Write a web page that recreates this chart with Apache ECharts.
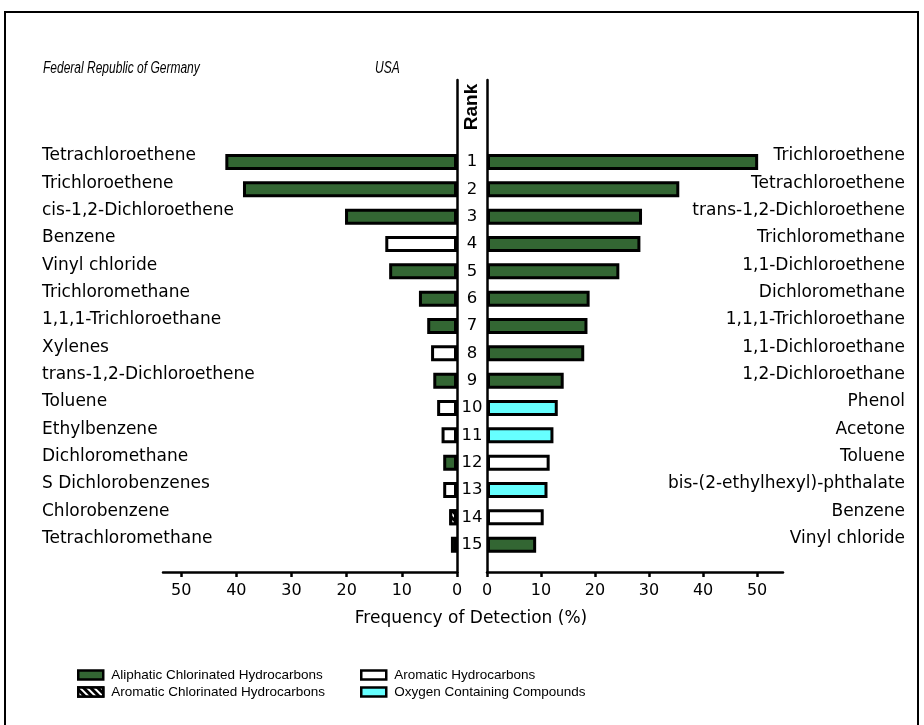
<!DOCTYPE html>
<html><head><meta charset="utf-8">
<script src="https://cdn.jsdelivr.net/npm/echarts@6/dist/echarts.min.js"></script>
<style>html,body{margin:0;padding:0;background:#fff}#c{width:924px;height:725px}</style>
</head><body><div id="c"></div>
<script>
// ---- data ----
const ranks = ['1','2','3','4','5','6','7','8','9','10','11','12','13','14','15'];
const gerNames = ['Tetrachloroethene','Trichloroethene','cis-1,2-Dichloroethene','Benzene','Vinyl chloride',
  'Trichloromethane','1,1,1-Trichloroethane','Xylenes','trans-1,2-Dichloroethene','Toluene',
  'Ethylbenzene','Dichloromethane','S Dichlorobenzenes','Chlorobenzene','Tetrachloromethane'];
const gerValues = [42.0, 38.8, 20.3, 13.0, 12.3, 6.9, 5.4, 4.7, 4.3, 3.6, 2.8, 2.5, 2.5, 1.4, 1.1];
const gerTypes = ['A','A','A','H','A','A','A','H','A','H','H','A','H','C','A'];
const usaNames = ['Trichloroethene','Tetrachloroethene','trans-1,2-Dichloroethene','Trichloromethane','1,1-Dichloroethene',
  'Dichloromethane','1,1,1-Trichloroethane','1,1-Dichloroethane','1,2-Dichloroethane','Phenol',
  'Acetone','Toluene','bis-(2-ethylhexyl)-phthalate','Benzene','Vinyl chloride'];
const usaValues = [50.2, 35.6, 28.7, 28.4, 24.5, 19.0, 18.6, 18.0, 14.2, 13.1, 12.3, 11.6, 11.2, 10.5, 9.1];
const usaTypes = ['A','A','A','A','A','A','A','A','A','O','O','H','O','H','A'];
const xTicks = [0, 10, 20, 30, 40, 50];
const typeNames = {
  A: 'Aliphatic Chlorinated Hydrocarbons',
  C: 'Aromatic Chlorinated Hydrocarbons',
  H: 'Aromatic Hydrocarbons',
  O: 'Oxygen Containing Compounds'
};

// ---- layout / style ----
const PAD_TOP = 3, PAD_BOTTOM = 1;
const pad = arr => [...Array(PAD_TOP).fill(''), ...arr, ...Array(PAD_BOTTOM).fill('')];
const padVals = (vals, types, t) => [...Array(PAD_TOP).fill('-'), ...vals.map((v, i) => types[i] === t ? v : '-'), ...Array(PAD_BOTTOM).fill('-')];
const typeStyle = {
  A: { color: '#336633' },
  H: { color: '#ffffff' },
  O: { color: '#66ffff' },
  C: { color: '#ffffff', decal: { symbol: 'rect', symbolSize: 1, dashArrayX: [[1, 0]], dashArrayY: [3, 2], rotation: Math.PI / 4, color: '#000', backgroundColor: '#fff' } }
};
const LAB = 'DejaVu Sans';
const black = '#000';

const chart = echarts.init(document.getElementById('c'), null, { renderer: 'canvas' });

function xAxisDef(gridIndex, inverse, max) {
  return {
    type: 'value', gridIndex, inverse, min: 0, max, interval: 10,
    splitLine: { show: false },
    axisLine: { show: true, lineStyle: { color: black, width: 2.5 } },
    axisTick: { show: true, length: 5, lineStyle: { color: black, width: 2.5 }, customValues: xTicks },
    axisLabel: { customValues: xTicks, color: black, fontFamily: LAB, fontSize: 16, margin: 11,
      formatter: v => (xTicks.includes(v) ? String(v) : '') }
  };
}

function buildSeries(vals, types, prefix, xi, yi) {
  const used = ['A', 'C', 'H', 'O'].filter(t => types.includes(t));
  return used.map(t => ({
    type: 'bar', name: typeNames[t], stack: prefix, xAxisIndex: xi, yAxisIndex: yi,
    barWidth: 16,
    data: padVals(vals, types, t),
    itemStyle: Object.assign({ borderColor: black, borderWidth: 3 }, typeStyle[t]),
    emphasis: { disabled: true },
    animation: false
  }));
}

const nameLabel = {
  color: black, fontFamily: LAB, fontSize: 17, interval: 0,
  formatter: v => (v ? '{n|' + v + '}' : ''),
  rich: { n: { color: black, fontFamily: LAB, fontSize: 17, padding: [0, 0, 12, 0] } }
};

const legendText = { fontFamily: 'Liberation Sans', fontSize: 13.5, color: black, padding: [0, 0, 0, 3] };

const option = {
  backgroundColor: '#fff',
  animation: false,
  grid: [
    { left: 163, right: 467, top: 80, bottom: 153 },
    { left: 487, right: 141, top: 80, bottom: 153 }
  ],
  xAxis: [xAxisDef(0, true, 53.3), xAxisDef(1, false, 54.8)],
  yAxis: [
    { type: 'category', gridIndex: 0, position: 'right', inverse: true, boundaryGap: false, data: pad(ranks),
      axisLine: { show: true, onZero: false, lineStyle: { color: black, width: 2.5 } },
      axisTick: { show: false }, axisLabel: { show: false }, splitLine: { show: false } },
    { type: 'category', gridIndex: 0, position: 'left', inverse: true, boundaryGap: false, data: pad(gerNames),
      axisLine: { show: false }, axisTick: { show: false },
      axisLabel: Object.assign({ align: 'left', margin: 121 }, nameLabel) },
    { type: 'category', gridIndex: 1, position: 'left', inverse: true, boundaryGap: false, data: pad(ranks),
      axisLine: { show: true, onZero: false, lineStyle: { color: black, width: 2.5 } },
      axisTick: { show: false },
      axisLabel: { align: 'center', margin: 15, interval: 0, color: black, fontFamily: LAB, fontSize: 16.5 } },
    { type: 'category', gridIndex: 1, position: 'right', inverse: true, boundaryGap: false, data: pad(usaNames),
      axisLine: { show: false }, axisTick: { show: false },
      axisLabel: Object.assign({ align: 'right', margin: 122 }, nameLabel) }
  ],
  legend: [
    { left: 77, top: 668, orient: 'vertical', itemWidth: 25, itemHeight: 9, itemGap: 3, padding: 0, icon: 'rect',
      data: [typeNames.A, typeNames.C], selectedMode: false,
      itemStyle: { borderWidth: 2.5, borderColor: black },
      textStyle: legendText },
    { left: 360, top: 668, orient: 'vertical', itemWidth: 25, itemHeight: 9, itemGap: 3, padding: 0, icon: 'rect',
      data: [typeNames.H, typeNames.O], selectedMode: false,
      itemStyle: { borderWidth: 2.5, borderColor: black },
      textStyle: legendText }
  ],
  graphic: [
    { type: 'rect', shape: { x: 5, y: 12, width: 913, height: 730 }, style: { fill: 'none', stroke: black, lineWidth: 2 }, silent: true },
    { type: 'text', x: 43, y: 69, scaleX: 0.75, style: { text: 'Federal Republic of Germany', fontFamily: 'Liberation Sans', fontStyle: 'italic', fontSize: 16, fill: black, verticalAlign: 'middle' } },
    { type: 'text', x: 375, y: 69, scaleX: 0.75, style: { text: 'USA', fontFamily: 'Liberation Sans', fontStyle: 'italic', fontSize: 16, fill: black, verticalAlign: 'middle' } },
    { type: 'text', x: 472, y: 107, rotation: Math.PI / 2, style: { text: 'Rank', fontFamily: 'Liberation Sans', fontWeight: 'bold', fontSize: 19, fill: black, align: 'center', verticalAlign: 'middle' } },
    { type: 'text', x: 471, y: 619, style: { text: 'Frequency of Detection (%)', fontFamily: LAB, fontSize: 17, fill: black, align: 'center', verticalAlign: 'middle' } }
  ],
  series: [
    ...buildSeries(gerValues, gerTypes, 'ger', 0, 0),
    ...buildSeries(usaValues, usaTypes, 'usa', 1, 2)
  ]
};
chart.setOption(option);
</script>
</body></html>
